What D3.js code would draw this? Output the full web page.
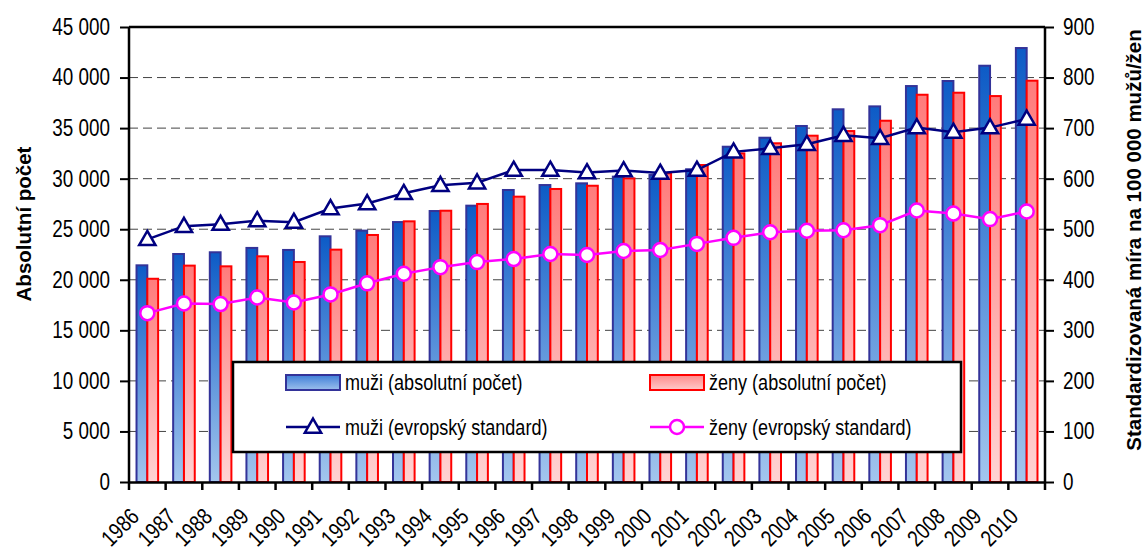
<!DOCTYPE html>
<html lang="cs">
<head>
    <meta charset="UTF-8">
    <title>Absolutni pocet a standardizovana mira</title>
    <script src="https://d3js.org/d3.v7.min.js"></script>
    <style>
        body{
            margin: 0;
            background-color: white;
        }
        #canvas{
            display: block;
        }
        .tick-lab{
            font-family: "Liberation Sans", Arial, sans-serif;
            font-size: 23px;
            fill: black;
        }
        .year-lab{
            font-family: "Liberation Sans", Arial, sans-serif;
            font-size: 23px;
            fill: black;
        }
        .ax-title{
            font-family: "Liberation Sans", Arial, sans-serif;
            font-size: 20.5px;
            font-weight: bold;
        }
        .leg-lab{
            font-family: "Liberation Sans", Arial, sans-serif;
            font-size: 22px;
        }
    </style>
</head>
<body>
    <svg id="canvas" width="1148" height="551"></svg>
    <script>
        // data
        let years = ['1986','1987','1988','1989','1990','1991','1992','1993','1994','1995','1996','1997','1998',
                     '1999','2000','2001','2002','2003','2004','2005','2006','2007','2008','2009','2010'];
        let muziAbs = [21430, 22550, 22720, 23150, 22950, 24300, 24860, 25710, 26800, 27330, 28880, 29370, 29540,
                       30200, 30360, 30930, 33160, 34050, 35210, 36860, 37150, 39160, 39660, 41170, 42920];
        let zenyAbs = [20100, 21400, 21330, 22320, 21760, 22980, 24430, 25780, 26830, 27500, 28220, 28980, 29300,
                       30030, 30530, 31350, 32500, 33500, 34250, 34710, 35730, 38300, 38500, 38170, 39690];
        let muziStd = [480, 506, 510, 517, 514, 541, 551, 571, 587, 592, 617, 617, 612,
                       616, 611, 617, 653, 660, 668, 686, 680, 701, 692, 701, 718];
        let zenyStd = [334, 353, 352, 365, 355, 371, 393, 412, 425, 435, 441, 451, 449,
                       457, 459, 471, 483, 494, 497, 498, 508, 537, 531, 520, 535];
        let leftTicks = [0, 5000, 10000, 15000, 20000, 25000, 30000, 35000, 40000, 45000];
        let rightTicks = [0, 100, 200, 300, 400, 500, 600, 700, 800, 900];
        let legendLabels = ['muži (absolutní počet)', 'ženy (absolutní počet)',
                            'muži (evropský standard)', 'ženy (evropský standard)'];
        let leftTitle = 'Absolutní počet';
        let rightTitle = 'Standardizovaná míra na 100 000 mužů/žen';

        let svg = d3.select('svg');
        let L = 129, R = 1045, T = 27, B = 482;
        let NARROW = 0.82;   // no Arial Narrow here, squeeze Liberation Sans instead

        let x = d3.scaleBand().domain(years).range([L, R]).padding(0);
        let bw = 10.8;
        let yL = d3.scaleLinear().domain([0, 45000]).range([B, T]);
        let yR = d3.scaleLinear().domain([0, 900]).range([B, T]);
        let fmt = function(v){ return d3.format(',')(v).replace(/,/g, ' '); };

        // gradients for the bars
        let defs = svg.append('defs');
        function grad(id, c1, c2){
            let g = defs.append('linearGradient').attr('id', id)
                .attr('x1',0).attr('y1',0).attr('x2',0).attr('y2',1);
            g.append('stop').attr('offset','0%').attr('stop-color', c1);
            g.append('stop').attr('offset','100%').attr('stop-color', c2);
        }
        grad('gBlue', '#0d5bc6', '#a3c6ee');
        grad('gRed', '#ff7b7b', '#ffd3d3');
        grad('gBlueH', '#3f7fd8', '#9cc0ec');
        grad('gRedH', '#ff8a8a', '#ffcaca');

        // dashed grid
        svg.append('g').selectAll('line')
            .data(leftTicks.filter(function(d){ return d > 0 && d < 45000; }))
            .enter().append('line')
            .attr('x1', L).attr('x2', R)
            .attr('y1', function(d){ return yL(d); })
            .attr('y2', function(d){ return yL(d); })
            .attr('stroke', '#444').attr('stroke-width', 1)
            .attr('stroke-dasharray', '9,5');

        // bars
        let bars = svg.append('g');
        bars.selectAll('rect.m')
            .data(muziAbs).enter().append('rect')
            .attr('class','m')
            .attr('x', function(d,i){ return x(years[i]) + x.bandwidth()/2 - bw; })
            .attr('width', bw)
            .attr('y', function(d){ return yL(d); })
            .attr('height', function(d){ return B - yL(d); })
            .attr('fill', 'url(#gBlue)')
            .attr('stroke', '#333399').attr('stroke-width', 2);
        bars.selectAll('rect.z')
            .data(zenyAbs).enter().append('rect')
            .attr('class','z')
            .attr('x', function(d,i){ return x(years[i]) + x.bandwidth()/2; })
            .attr('width', bw)
            .attr('y', function(d){ return yL(d); })
            .attr('height', function(d){ return B - yL(d); })
            .attr('fill', 'url(#gRed)')
            .attr('stroke', '#ff0000').attr('stroke-width', 2);

        // lines with markers
        let cx = function(d,i){ return x(years[i]) + x.bandwidth()/2; };
        let lineM = d3.line().x(cx).y(function(d){ return yR(d); });
        svg.append('path').datum(muziStd)
            .attr('d', lineM).attr('fill','none')
            .attr('stroke','#000080').attr('stroke-width', 2.5);
        svg.append('path').datum(zenyStd)
            .attr('d', lineM).attr('fill','none')
            .attr('stroke','#ff00ff').attr('stroke-width', 2.5);

        let tri = d3.symbol().type(d3.symbolTriangle).size(115);
        svg.append('g').selectAll('path')
            .data(muziStd).enter().append('path')
            .attr('d', tri)
            .attr('transform', function(d,i){ return 'translate(' + cx(d,i) + ',' + (yR(d) + 1) + ')'; })
            .attr('fill','white').attr('stroke','#000080').attr('stroke-width', 2.5);
        svg.append('g').selectAll('circle')
            .data(zenyStd).enter().append('circle')
            .attr('cx', cx).attr('cy', function(d){ return yR(d); })
            .attr('r', 7)
            .attr('fill','white').attr('stroke','#ff00ff').attr('stroke-width', 2.5);

        // frame: top border and axes
        svg.append('line').attr('x1', L).attr('x2', R).attr('y1', T).attr('y2', T)
            .attr('stroke','black').attr('stroke-width', 2.5);

        let axL = svg.append('g').attr('transform','translate(' + L + ',0)')
            .call(d3.axisLeft(yL).tickValues(leftTicks).tickFormat(fmt).tickSize(9).tickPadding(10));
        let axR = svg.append('g').attr('transform','translate(' + R + ',0)')
            .call(d3.axisRight(yR).tickValues(rightTicks).tickSize(9).tickPadding(9));
        let axB = svg.append('g').attr('transform','translate(0,' + B + ')')
            .call(d3.axisBottom(x).tickValues([]).tickSizeOuter(0));
        // ticks at the category boundaries
        axB.selectAll('line.bt')
            .data(years.concat(['end'])).enter().append('line')
            .attr('class','bt')
            .attr('x1', function(d,i){ return L + i * x.step(); })
            .attr('x2', function(d,i){ return L + i * x.step(); })
            .attr('y1', 0).attr('y2', 8)
            .attr('stroke','black').attr('stroke-width', 2.5);

        [axL, axR, axB].forEach(function(a){
            a.select('.domain').attr('stroke','black').attr('stroke-width', 2.5);
            a.selectAll('.tick line').attr('stroke','black').attr('stroke-width', 2);
            a.selectAll('.tick text').each(function(){
                let t = d3.select(this);
                let tx = +t.attr('x');
                t.attr('class','tick-lab').attr('font-family', null).attr('font-size', null)
                    .attr('x', 0)
                    .attr('transform', 'translate(' + tx + ',0) scale(' + NARROW + ',1)');
            });
        });
        axL.select('.domain').attr('d', 'M0,' + T + 'V' + B);
        axR.select('.domain').attr('d', 'M0,' + T + 'V' + B);

        // rotated year labels
        svg.append('g').selectAll('text')
            .data(years).enter().append('text')
            .attr('class','year-lab')
            .attr('text-anchor','end')
            .attr('transform', function(d){
                return 'translate(' + (x(d) + x.bandwidth()/2 - 7) + ',518) rotate(-45) scale(' + NARROW + ',1)';
            })
            .text(function(d){ return d; });

        // axis titles
        svg.append('text').attr('class','ax-title')
            .attr('text-anchor','middle')
            .attr('transform','translate(31,224) rotate(-90)')
            .text(leftTitle);
        svg.append('text').attr('class','ax-title')
            .attr('text-anchor','middle')
            .attr('transform','translate(1141,240) rotate(-90)')
            .text(rightTitle);

        // legend
        let leg = svg.append('g');
        leg.append('rect').attr('x', 233).attr('y', 362).attr('width', 728).attr('height', 90)
            .attr('fill','white').attr('stroke','black').attr('stroke-width', 2.5);
        let row1 = 382.5, row2 = 427;
        leg.append('rect').attr('x', 286).attr('y', row1 - 7.5).attr('width', 54).attr('height', 15)
            .attr('fill','url(#gBlueH)').attr('stroke','#333399').attr('stroke-width', 2);
        leg.append('rect').attr('x', 650).attr('y', row1 - 7.5).attr('width', 54).attr('height', 15)
            .attr('fill','url(#gRedH)').attr('stroke','#ff0000').attr('stroke-width', 2);
        leg.append('line').attr('x1', 286).attr('x2', 340).attr('y1', row2).attr('y2', row2)
            .attr('stroke','#000080').attr('stroke-width', 2.5);
        leg.append('path').attr('d', tri).attr('transform','translate(313,' + (row2 + 1) + ')')
            .attr('fill','white').attr('stroke','#000080').attr('stroke-width', 2.5);
        leg.append('line').attr('x1', 650).attr('x2', 704).attr('y1', row2).attr('y2', row2)
            .attr('stroke','#ff00ff').attr('stroke-width', 2.5);
        leg.append('circle').attr('cx', 677).attr('cy', row2).attr('r', 7)
            .attr('fill','white').attr('stroke','#ff00ff').attr('stroke-width', 2.5);

        let legPos = [[345, row1], [709, row1], [345, row2], [709, row2]];
        leg.selectAll('text.leg-lab')
            .data(legendLabels).enter().append('text')
            .attr('class','leg-lab')
            .attr('dy', '0.36em')
            .attr('transform', function(d,i){
                return 'translate(' + legPos[i][0] + ',' + legPos[i][1] + ') scale(' + NARROW + ',1)';
            })
            .text(function(d){ return d; });
    </script>
</body>
</html>
